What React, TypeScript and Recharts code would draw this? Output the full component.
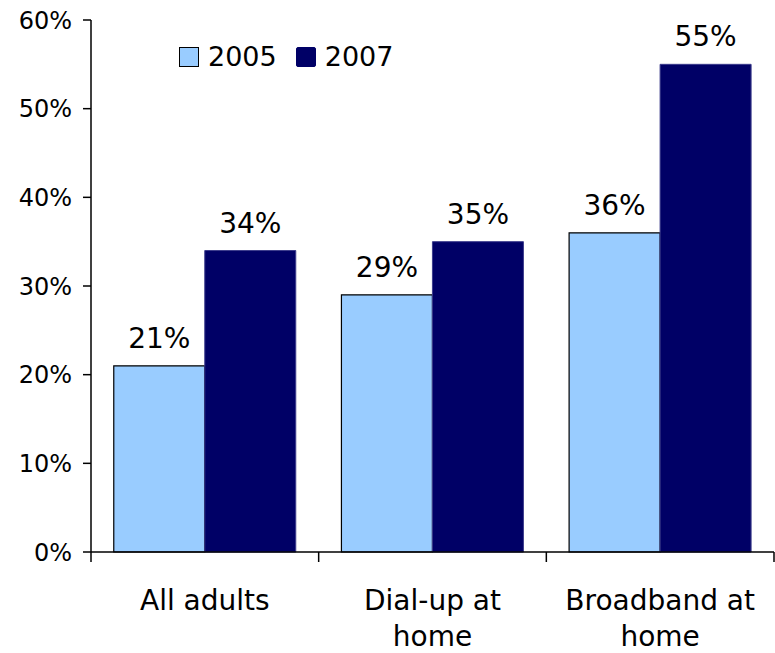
import React from 'react';
import { BarChart, Bar, XAxis, YAxis, Legend, LabelList } from 'recharts';

// values (percent)
const categories = ['All adults', 'Dial-up at\nhome', 'Broadband at\nhome'];
const values2005 = [21, 29, 36];
const values2007 = [34, 35, 55];
const yTicks = [0, 10, 20, 30, 40, 50, 60];

const seriesNames = ['2005', '2007'];
const seriesColors = ['#99CCFF', '#000066'];

const data = categories.map((name, i) => ({
  name,
  y2005: values2005[i],
  y2007: values2007[i],
}));

const FONT = '"DejaVu Sans", Verdana, sans-serif';
const W = 775;
const H = 653;
const Y_AXIS_W = 91;
const RIGHT = 1;
const PLOT_W = W - Y_AXIS_W - RIGHT;
const BAND = PLOT_W / categories.length;

// category label (multi-line) plus boundary tick marks, like Excel draws them
const CategoryTick = (props: any) => {
  const { x, y, payload, index } = props;
  const lines = String(payload.value).split('\n');
  const left = x - BAND / 2;
  const right = x + BAND / 2;
  return (
    <g>
      <line x1={left} x2={left} y1={y} y2={y + 10} stroke="#000" strokeWidth={1.5} />
      {index === categories.length - 1 && (
        <line x1={right} x2={right} y1={y} y2={y + 10} stroke="#000" strokeWidth={1.5} />
      )}
      <text x={x} y={y} textAnchor="middle" fontFamily={FONT} fontSize={28} fill="#000">
        {lines.map((l, i) => (
          <tspan key={i} x={x} dy={i === 0 ? 58 : 36}>
            {l}
          </tspan>
        ))}
      </text>
    </g>
  );
};

const LegendBox = () => (
  <div style={{ display: 'flex', alignItems: 'center', fontFamily: FONT, fontSize: 27, lineHeight: 1 }}>
    {seriesNames.map((s, i) => (
      <div key={s} style={{ display: 'flex', alignItems: 'center', marginRight: 19 }}>
        <span
          style={{
            display: 'inline-block',
            width: 20,
            height: 20,
            boxSizing: 'border-box',
            background: seriesColors[i],
            border: i === 0 ? '1px solid #000' : '1px solid #000066',
            borderRadius: i === 0 ? 0 : 2,
            marginRight: 9,
          }}
        />
        <span style={{ color: '#000' }}>{s}</span>
      </div>
    ))}
  </div>
);

export default function App() {
  return (
    <div style={{ position: 'absolute', left: 0, top: 0, background: '#fff' }}>
      <BarChart
        width={W}
        height={H}
        data={data}
        margin={{ top: 20, right: RIGHT, bottom: 0, left: 0 }}
        barCategoryGap="10%"
        barGap={0}
      >
        <XAxis
          dataKey="name"
          height={H - 20 - 532}
          tickSize={0}
          tickMargin={0}
          tickLine={false}
          axisLine={{ stroke: '#000', strokeWidth: 1.5 }}
          tick={<CategoryTick />}
          interval={0}
        />
        <YAxis
          width={Y_AXIS_W}
          domain={[0, 60]}
          ticks={yTicks}
          tickFormatter={(v: number) => `${v}%`}
          tickSize={8}
          tickMargin={11}
          axisLine={{ stroke: '#000', strokeWidth: 1.5 }}
          tickLine={{ stroke: '#000', strokeWidth: 1.5 }}
          tick={{ fill: '#000', fontSize: 24, fontFamily: FONT }}
        />
        <Legend
          layout="horizontal"
          align="center"
          verticalAlign="middle"
          wrapperStyle={{ top: 43, left: 179, width: 'auto' }}
          content={<LegendBox />}
        />
        <Bar dataKey="y2005" name="2005" fill={seriesColors[0]} stroke="#000" strokeWidth={1.2} isAnimationActive={false}>
          <LabelList
            dataKey="y2005"
            position="top"
            offset={18}
            formatter={(v: any) => `${v}%`}
            style={{ fill: '#000', fontSize: 28, fontFamily: FONT }}
          />
        </Bar>
        <Bar dataKey="y2007" name="2007" fill={seriesColors[1]} stroke="#3c3c8c" strokeWidth={1} isAnimationActive={false}>
          <LabelList
            dataKey="y2007"
            position="top"
            offset={18}
            formatter={(v: any) => `${v}%`}
            style={{ fill: '#000', fontSize: 28, fontFamily: FONT }}
          />
        </Bar>
      </BarChart>
    </div>
  );
}
